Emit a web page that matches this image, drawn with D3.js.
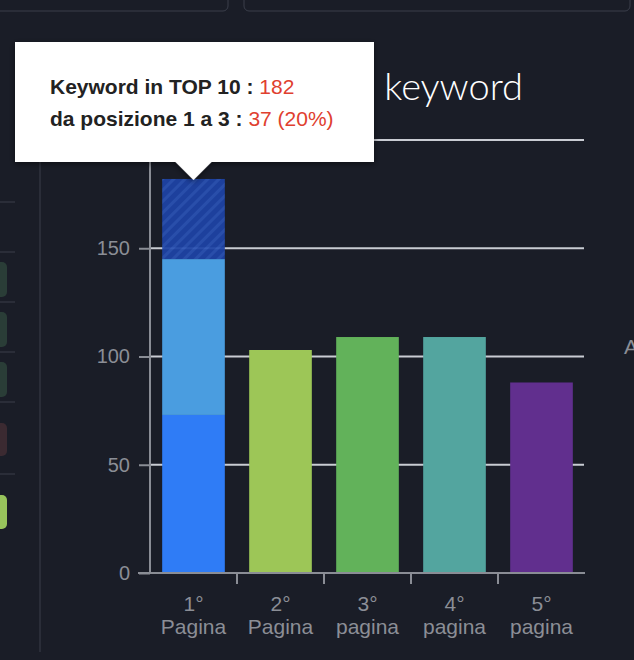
<!DOCTYPE html>
<html><head><meta charset="utf-8">
<script src="https://cdn.jsdelivr.net/npm/d3@7"></script>
<style>
html,body{margin:0;padding:0;background:#1a1d27;}
svg{display:block;}
</style></head>
<body>
<svg id="c" width="634" height="660"></svg>
<script>
// ---- data ----
const catLine1 = ["1°", "2°", "3°", "4°", "5°"];
const catLine2 = ["Pagina", "Pagina", "pagina", "pagina", "pagina"];
const baseValues = [73, 103, 109, 109, 88];   // bottom segment
const midValues  = [72, 0, 0, 0, 0];          // 1st page: middle segment
const topValues  = [37, 0, 0, 0, 0];          // positions 1-3 (hatched)
const baseColors = ["#2f7cf6", "#9dc657", "#62b25a", "#53a59f", "#612f8e"];
const yTicks = [0, 50, 100, 150, 200];
const tooltipLabel1 = "Keyword in TOP 10 : ", tooltipValue1 = "182";
const tooltipLabel2 = "da posizione 1 a 3 : ", tooltipValue2 = "37 (20%)";

const svg = d3.select("#c");
const defs = svg.append("defs");
const pat = defs.append("pattern").attr("id","hatch").attr("patternUnits","userSpaceOnUse")
  .attr("width",8).attr("height",8).attr("patternTransform","rotate(45)");
pat.append("rect").attr("width",8).attr("height",8).attr("fill","#1d43a6");
pat.append("rect").attr("width",3).attr("height",8).attr("fill","#2a52b4");
const f = defs.append("filter").attr("id","sh").attr("x","-10%").attr("y","-10%").attr("width","120%").attr("height","140%");
f.append("feDropShadow").attr("dx",0).attr("dy",2).attr("stdDeviation",3).attr("flood-color","#000").attr("flood-opacity",0.5);

// ---- background panels ----
svg.append("rect").attr("x",-10).attr("y",-10).attr("width",238).attr("height",21).attr("rx",5)
  .attr("fill","none").attr("stroke","#3a3e4a").attr("stroke-width",1);
svg.append("rect").attr("x",244).attr("y",-10).attr("width",386).attr("height",21).attr("rx",5)
  .attr("fill","none").attr("stroke","#3a3e4a").attr("stroke-width",1);
svg.append("line").attr("x1",40).attr("x2",40).attr("y1",150).attr("y2",652).attr("stroke","#3a3e4a");
[202,252,302,352,402,474].forEach(y=>svg.append("line").attr("x1",0).attr("x2",15).attr("y1",y).attr("y2",y).attr("stroke","#3a3e4a"));
const badges=[[262,297,"#2a3d37"],[312,347,"#2a3d37"],[362,397,"#2a3d37"],[423,456,"#3b2a31"],[495,529,"#98c45c"]];
badges.forEach(b=>svg.append("rect").attr("x",-10).attr("y",b[0]).attr("width",17).attr("height",b[1]-b[0]).attr("rx",5).attr("fill",b[2]));
svg.append("text").attr("x",624).attr("y",354).attr("fill","#8b8e96").attr("font-family","Liberation Sans, Arial, sans-serif").attr("font-size",21).text("A");

// ---- scales ----
const x = d3.scaleBand().domain(d3.range(catLine1.length)).range([150,585]).paddingInner(0.28).paddingOuter(0.14);
const y = d3.scaleLinear().domain([0,200]).range([573,140]);

// title
svg.append("text").attr("x",523).attr("y",100).attr("text-anchor","end").attr("fill","#ffffff")
  .attr("font-family","'Helvetica Neue', Lato, Roboto, sans-serif").attr("font-weight",300).attr("font-size",38).text("keyword");

// grid
svg.append("g").selectAll("line").data(yTicks.filter(d=>d>0)).join("line")
  .attr("x1",150).attr("x2",584).attr("y1",d=>y(d)).attr("y2",d=>y(d))
  .attr("stroke","#c9ccd3").attr("stroke-width",2);

// y axis
const yAxis = svg.append("g").attr("transform","translate(150,0)")
  .call(d3.axisLeft(y).tickValues(yTicks).tickSize(11).tickPadding(9));
yAxis.select(".domain").attr("stroke","#8a8d95").attr("stroke-width",2).attr("d","M0,"+y(200)+"V"+y(0));
yAxis.selectAll(".tick line").attr("stroke","#8a8d95").attr("stroke-width",2);
yAxis.selectAll("text").attr("fill","#8b8e96").attr("font-size",20).attr("font-family","Liberation Sans, Arial, sans-serif");

// bars
const rows = catLine1.map((c,i)=>({i, base:baseValues[i], mid:midValues[i], top:topValues[i]}));
const stack = d3.stack().keys(["base","mid","top"])(rows);
const fills = {base:(d)=>baseColors[d.data.i], mid:()=>"#4a9de0", top:()=>"url(#hatch)"};
stack.forEach(layer=>{
  svg.append("g").selectAll("rect").data(layer.filter(d=>d[1]>d[0])).join("rect")
    .attr("x",d=>x(d.data.i)).attr("width",x.bandwidth())
    .attr("y",d=>y(d[1])).attr("height",d=>y(d[0])-y(d[1]))
    .attr("fill",fills[layer.key])
    .attr("opacity",layer.key==="top"?0.93:1);
});

// x axis
const xAxis = svg.append("g").attr("transform","translate(0,573)");
xAxis.append("line").attr("x1",138).attr("x2",585).attr("stroke","#8a8d95").attr("stroke-width",2);
xAxis.selectAll(".tk").data(d3.range(1,catLine1.length)).join("line")
  .attr("x1",d=>x(d)-x.step()*x.paddingInner()/2).attr("x2",d=>x(d)-x.step()*x.paddingInner()/2)
  .attr("y1",0).attr("y2",11).attr("stroke","#8a8d95").attr("stroke-width",2);
const lab = xAxis.selectAll(".lb").data(catLine1.map((c,i)=>i)).join("text")
  .attr("text-anchor","middle").attr("fill","#8b8e96").attr("font-size",21)
  .attr("font-family","Liberation Sans, Arial, sans-serif");
lab.append("tspan").attr("x",d=>x(d)+x.bandwidth()/2).attr("y",38).text(d=>catLine1[d]);
lab.append("tspan").attr("x",d=>x(d)+x.bandwidth()/2).attr("y",61).text(d=>catLine2[d]);

// tooltip
const tt = svg.append("g");
const tipX = x(0)+x.bandwidth()/2, tipY = y(182)+1;
tt.append("path").attr("filter","url(#sh)")
  .attr("d",`M15,42H374V162H${tipX+18}L${tipX},${tipY}L${tipX-18},162H15Z`).attr("fill","#ffffff");
const t1 = tt.append("text").attr("x",50).attr("y",94).attr("font-family","Liberation Sans, Arial, sans-serif").attr("font-size",21);
t1.append("tspan").attr("font-weight","bold").attr("fill","#222").text(tooltipLabel1);
t1.append("tspan").attr("fill","#e0402f").text(tooltipValue1);
const t2 = tt.append("text").attr("x",50).attr("y",126).attr("font-family","Liberation Sans, Arial, sans-serif").attr("font-size",21);
t2.append("tspan").attr("font-weight","bold").attr("fill","#222").text(tooltipLabel2);
t2.append("tspan").attr("fill","#e0402f").text(tooltipValue2);
</script>
</body></html>
